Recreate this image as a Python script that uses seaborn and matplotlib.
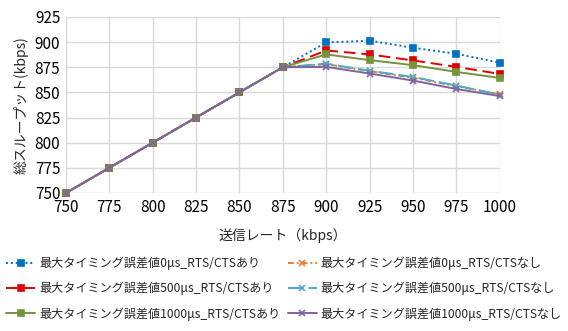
import matplotlib
matplotlib.use("Agg")
import matplotlib.pyplot as plt
import seaborn as sns
import pandas as pd

sns.set_theme(style="white")
plt.rcParams['font.family'] = ['Noto Sans CJK JP', 'DejaVu Sans']

rates = [750, 775, 800, 825, 850, 875, 900, 925, 950, 975, 1000]
base = [750, 775, 800, 825, 850, 875]
s0_ari = base + [899.6, 901.3, 894.3, 888.3, 879.5]
s0_nashi = base + [878.0, 871.0, 864.5, 856.0, 848.0]
s500_ari = base + [891.6, 887.7, 881.7, 875.3, 868.3]
s500_nashi = base + [878.5, 871.5, 865.3, 856.7, 847.7]
s1000_ari = base + [887.7, 882.0, 877.0, 870.3, 864.3]
s1000_nashi = base + [875.3, 868.7, 861.7, 853.3, 846.3]

labels = ["最大タイミング誤差値0μs_RTS/CTSあり", "最大タイミング誤差値0μs_RTS/CTSなし",
          "最大タイミング誤差値500μs_RTS/CTSあり", "最大タイミング誤差値500μs_RTS/CTSなし",
          "最大タイミング誤差値1000μs_RTS/CTSあり", "最大タイミング誤差値1000μs_RTS/CTSなし"]
series = [s0_ari, s0_nashi, s500_ari, s500_nashi, s1000_ari, s1000_nashi]
colors = ["#0070C0", "#ED7D31", "#E00000", "#4BACC6", "#77933C", "#8064A2"]
styles = [(0, (1, 1.5)), (0, (3, 1.5, 1, 1.5)), (0, (6, 3)), (0, (8, 2.5)), "-", "-"]
markers = ["s", "x", "s", "x", "s", "x"]

fig = plt.figure(figsize=(5.68, 3.31), dpi=100)
ax = fig.add_axes([0.116, 0.417, 0.764, 0.532])

for lab, vals, c, ls, mk in zip(labels, series, colors, styles, markers):
    df = pd.DataFrame({"rate": rates, "thr": vals})
    sns.lineplot(data=df, x="rate", y="thr", ax=ax, color=c, linestyle=ls,
                 marker=mk, markersize=5, markeredgecolor=c, markeredgewidth=1.2,
                 linewidth=1.4, label=lab, clip_on=False)

ax.set_xlim(750, 1000)
ax.set_ylim(750, 925)
ax.set_xticks(rates)
ax.set_yticks(list(range(750, 926, 25)))
ax.grid(True, color="#d9d9d9", linewidth=1)
for s in ax.spines.values():
    s.set_visible(False)
ax.tick_params(axis='both', labelsize=11, colors="#000000", length=0, pad=4)
ax.set_xlabel("送信レート（kbps）", fontsize=10, labelpad=9)
ax.set_ylabel("総スループット(kbps)", fontsize=10, labelpad=4)

h, l = ax.get_legend_handles_labels()
ax.get_legend().remove()
order = [0, 2, 4, 1, 3, 5]
fig.legend([h[i] for i in order], [l[i] for i in order], ncol=2, loc="upper center",
           bbox_to_anchor=(0.5, 0.24), frameon=False, fontsize=8.7,
           handlelength=2.4, columnspacing=0.6, handletextpad=0.3,
           labelspacing=1.0, borderaxespad=0)

fig.savefig("out.png", dpi=100)
